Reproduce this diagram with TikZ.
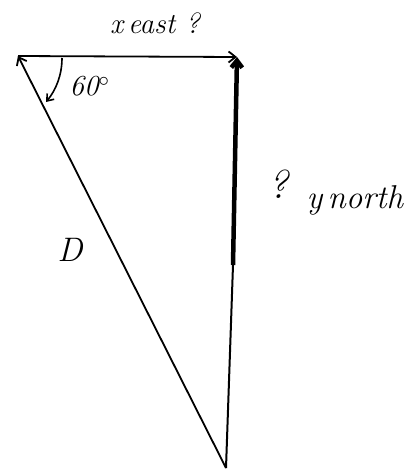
\documentclass[tikz,border=0pt]{standalone}
\usepackage{tikz}
\usetikzlibrary{arrows.meta}

\tikzset{
  vec/.style={line width=1.8pt, -{Straight Barb[length=7pt,width=11pt]}},
  hand/.style={font=\fontsize{29}{33}\selectfont\itshape}
}

\begin{document}
\begin{tikzpicture}[x=1pt,y=-1pt]
  \useasboundingbox (0,0) rectangle (417,472);

  %% Corners of the triangle
  \coordinate (west) at (18,56);
  \coordinate (top) at (237,57);
  \coordinate (south) at (226,468);
  \coordinate (mid) at (233,265);

  %% Vectors
  \draw[vec] (west) -- (top);
  \draw[vec] (south) -- (west);
  \draw[line width=2pt] (south) -- (mid);
  \draw[vec, line width=4.5pt] (mid) -- (top);

  %% Angle mark
  \coordinate (arcstart) at (62,58);
  \coordinate (arcend) at (46,102);
  \draw[line width=1.6pt, -{Straight Barb[length=6pt,width=9pt]}]
    (arcstart) .. controls (62,75) and (56,90) .. (arcend);
  \node[hand, anchor=west] (angle) at (66,86) {60$^\circ$};

  %% Labels
  \node[hand] (xlabel) at (155,23) {x\,east ?};
  \node[hand, font=\fontsize{40}{44}\selectfont\itshape] (qmark) at (278,184) {?};
  \node[hand, anchor=west, font=\fontsize{33}{37}\selectfont\itshape] (ylabel) at (303,200) {y\,north};
  \node[hand, font=\fontsize{34}{38}\selectfont\itshape] (dlabel) at (70,250) {D};
\end{tikzpicture}
\end{document}
